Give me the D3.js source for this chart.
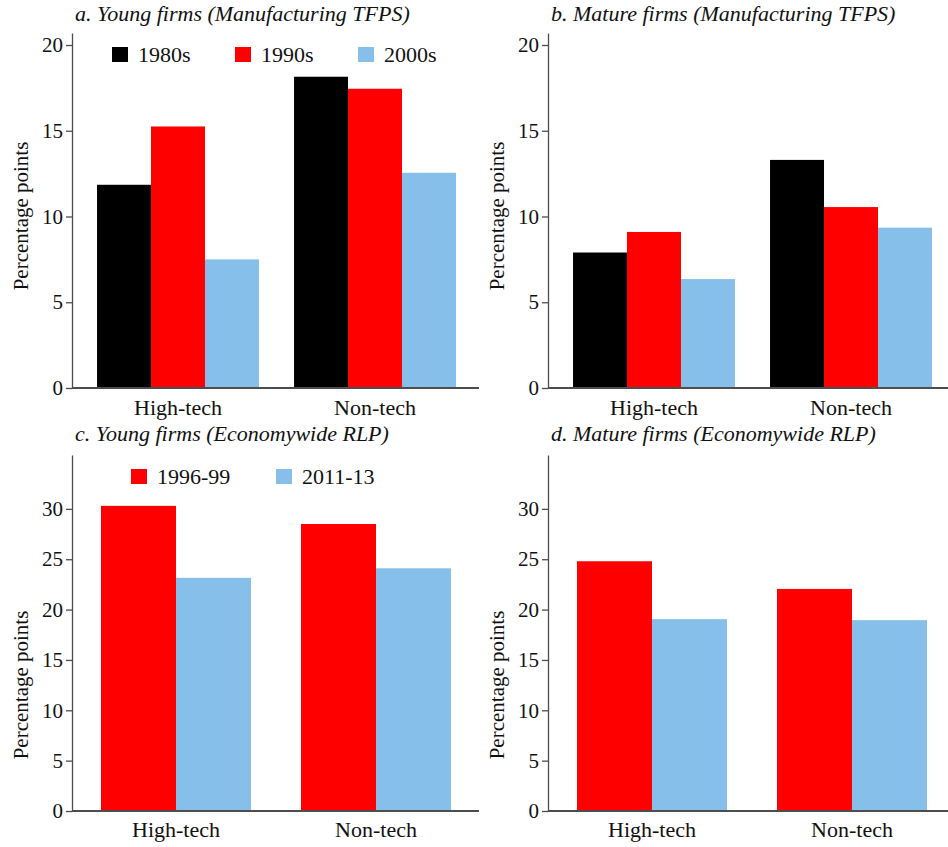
<!DOCTYPE html>
<html>
<head>
<meta charset="utf-8">
<script src="https://cdn.jsdelivr.net/npm/d3@7"></script>
</head>
<body style="margin:0;background:#fff">
<svg id="chart" width="948" height="847" style="font-family:'Liberation Serif'"></svg>
<script>
// ---- data ----
const categories = ["High-tech", "Non-tech"];

const tfpsSeries = ["1980s", "1990s", "2000s"];
const tfpsColors = ["#000000", "#ff0000", "#85bfea"];
const youngTFPS = { "1980s": [11.85, 18.15], "1990s": [15.25, 17.45], "2000s": [7.5, 12.55] };
const matureTFPS = { "1980s": [7.9, 13.3], "1990s": [9.1, 10.55], "2000s": [6.35, 9.35] };
const tfpsTicks = [0, 5, 10, 15, 20];

const rlpSeries = ["1996-99", "2011-13"];
const rlpColors = ["#ff0000", "#85bfea"];
const youngRLP = { "1996-99": [30.3, 28.5], "2011-13": [23.15, 24.1] };
const matureRLP = { "1996-99": [24.8, 22.05], "2011-13": [19.05, 18.95] };
const rlpTicks = [0, 5, 10, 15, 20, 25, 30];

const titles = [
  "a. Young firms (Manufacturing TFPS)",
  "b. Mature firms (Manufacturing TFPS)",
  "c. Young firms (Economywide RLP)",
  "d. Mature firms (Economywide RLP)"
];
const yLabel = "Percentage points";

// ---- drawing ----
const FONT = "Liberation Serif";
const svg = d3.select("#chart");
const AXIS = "#4d4d4d";
const TXT = "#111111";
const FS = 21;

function serif(sel, size) {
  return sel.attr("font-family", FONT).style("font-family", FONT)
    .attr("font-size", size).style("font-size", size + "px").attr("fill", TXT);
}

function panel(opt) {
  const g = svg.append("g");
  const y = d3.scaleLinear().domain([0, opt.yMax]).range([opt.y0, opt.yTop]);
  const x0 = d3.scaleBand().domain(categories).range([opt.x0, opt.x1])
    .paddingInner(opt.pi).paddingOuter(opt.po);
  const x1 = d3.scaleBand().domain(opt.series).range([0, x0.bandwidth()]);
  const color = d3.scaleOrdinal().domain(opt.series).range(opt.colors);

  // bars
  const groups = g.selectAll("g.grp").data(categories).join("g")
    .attr("class", "grp")
    .attr("transform", d => `translate(${x0(d)},0)`);
  groups.selectAll("rect").data((c, ci) => opt.series.map(s => ({ s, v: opt.data[s][ci] })))
    .join("rect")
    .attr("x", d => x1(d.s))
    .attr("width", x1.bandwidth())
    .attr("y", d => y(d.v))
    .attr("height", d => y(0) - y(d.v))
    .attr("fill", d => color(d.s));

  // y axis
  const ya = g.append("g").attr("transform", `translate(${opt.x0},0)`)
    .call(d3.axisLeft(y).tickValues(opt.ticks).tickSize(6).tickPadding(3).tickSizeOuter(0));
  ya.attr("font-family", null).attr("font-size", null);
  ya.select(".domain").attr("stroke", AXIS).attr("stroke-width", 1.3);
  ya.selectAll(".tick line").attr("stroke", AXIS).attr("stroke-width", 1.3);
  serif(ya.selectAll(".tick text"), FS);

  // x axis line
  g.append("line").attr("x1", opt.x0).attr("x2", opt.xLineEnd)
    .attr("y1", y(0)).attr("y2", y(0)).attr("stroke", AXIS).attr("stroke-width", 1.8);

  // category labels
  serif(g.selectAll("text.cat").data(categories).join("text")
    .attr("class", "cat")
    .attr("x", d => x0(d) + x0.bandwidth() / 2)
    .attr("y", opt.catY)
    .attr("text-anchor", "middle"), FS + 1)
    .text(d => d);

  // title
  serif(g.append("text").attr("x", opt.x0 + 3).attr("y", opt.titleY), FS + 1)
    .attr("font-style", "italic").style("font-style", "italic").text(opt.title);

  // y label
  serif(g.append("text")
    .attr("transform", `translate(${opt.x0 - 44},${opt.yLabelY}) rotate(-90)`)
    .attr("text-anchor", "middle"), FS).text(yLabel);

  // legend
  if (opt.legend) {
    const L = opt.legend;
    const lg = g.selectAll("g.leg").data(opt.series).join("g")
      .attr("class", "leg")
      .attr("transform", (d, i) => `translate(${L.x + i * L.dx},${L.y})`);
    lg.append("rect").attr("x", 0).attr("y", -7).attr("width", 16).attr("height", 15)
      .attr("fill", d => color(d));
    serif(lg.append("text").attr("x", 26).attr("y", 7.5), FS + 1).text(d => d);
  }
}

const topRow = { y0: 388, yTop: 33, yMax: 20.7, ticks: tfpsTicks, series: tfpsSeries, colors: tfpsColors,
  pi: 0.178, po: 0.127, catY: 415, titleY: 21, yLabelY: 216 };
const botRow = { y0: 811, yTop: 455, yMax: 35.35, ticks: rlpTicks, series: rlpSeries, colors: rlpColors,
  pi: 0.25, po: 0.145, catY: 837, titleY: 441, yLabelY: 685 };

panel(Object.assign({}, topRow, { x0: 72, x1: 481, xLineEnd: 479, data: youngTFPS, title: titles[0],
  legend: { x: 112, dx: 123, y: 54 } }));
panel(Object.assign({}, topRow, { x0: 548, x1: 957, xLineEnd: 948, data: matureTFPS, title: titles[1] }));
panel(Object.assign({}, botRow, { x0: 72, x1: 480, xLineEnd: 479, data: youngRLP, title: titles[2],
  legend: { x: 131, dx: 145, y: 476 } }));
panel(Object.assign({}, botRow, { x0: 548, x1: 956, xLineEnd: 948, data: matureRLP, title: titles[3] }));
</script>
</body>
</html>
